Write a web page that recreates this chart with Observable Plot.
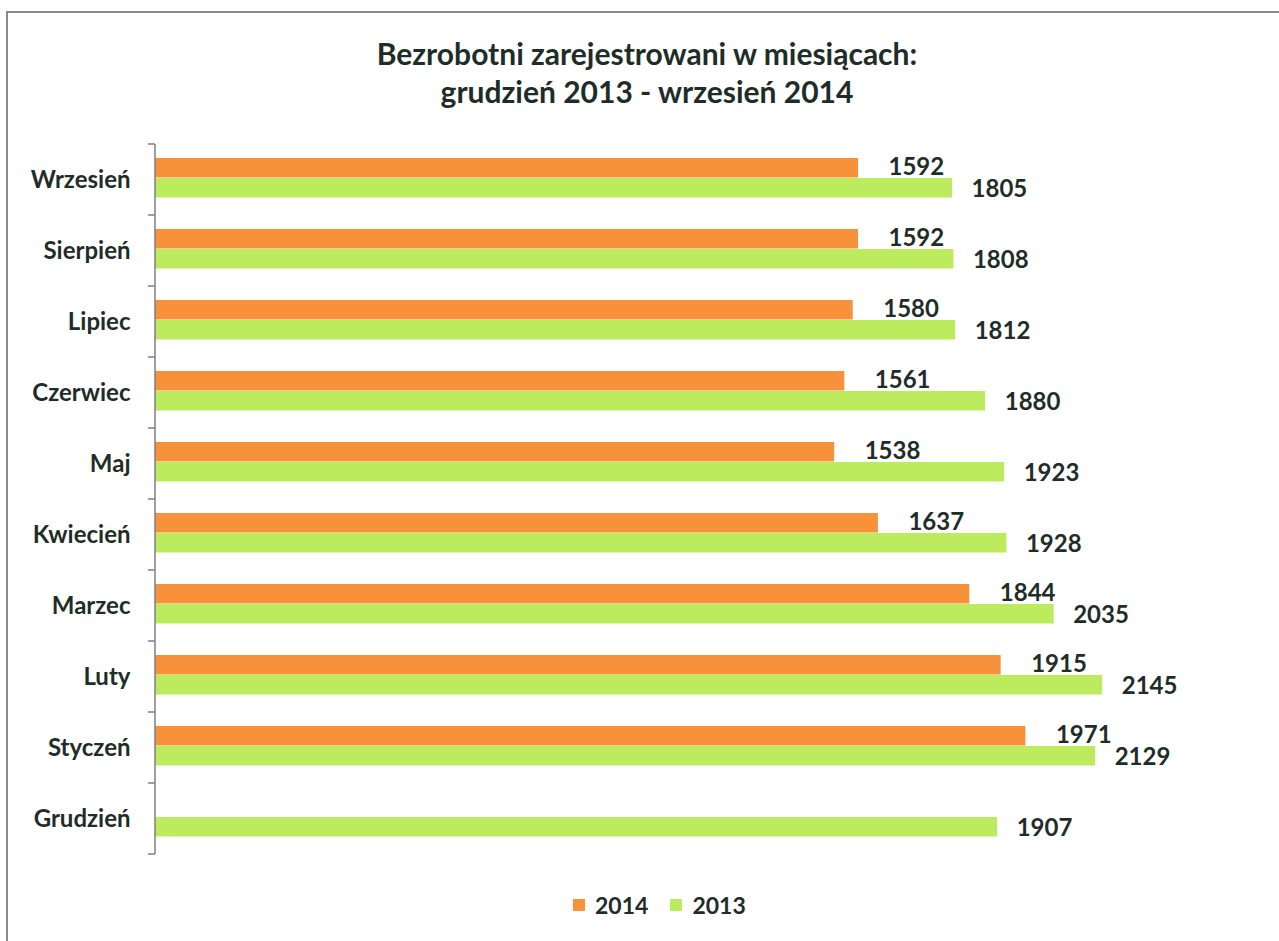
<!DOCTYPE html>
<html><head><meta charset="utf-8">
<script src="https://cdn.jsdelivr.net/npm/d3@7"></script>
<script src="https://cdn.jsdelivr.net/npm/@observablehq/plot@0.6"></script>
<style>
body{margin:0;background:#fff;font-family:Lato,"Open Sans",sans-serif;}
#wrap{position:relative;width:1279px;height:941px;overflow:hidden;background:#fff;}
.frameTop{position:absolute;left:7px;top:11px;width:1272px;height:2px;background:#8a8a8a;}
.frameLeft{position:absolute;left:6px;top:11px;width:2px;height:930px;background:#8a8a8a;}
#title{position:absolute;left:15px;top:34px;width:1264px;text-align:center;font-weight:700;font-size:30px;line-height:38px;color:#1f2d28;}
#chart{position:absolute;left:0;top:120px;}
#legend{position:absolute;left:573px;top:891px;display:flex;align-items:center;font-weight:700;font-size:23px;color:#1f2d28;}
#legend .sw{width:12px;height:12px;display:inline-block;margin-right:10px;}
#legend .item{display:flex;align-items:center;margin-right:22px;}
</style></head><body>
<div id="wrap">
 <div class="frameTop"></div><div class="frameLeft"></div>
 <div id="title">Bezrobotni zarejestrowani w miesiącach:<br>grudzień 2013 - wrzesień 2014</div>
 <div id="chart"></div>
 <div id="legend"></div>
</div>
<script>
const months = ["Wrzesień","Sierpień","Lipiec","Czerwiec","Maj","Kwiecień","Marzec","Luty","Styczeń","Grudzień"];
const values2014 = [1592,1592,1580,1561,1538,1637,1844,1915,1971,null];
const values2013 = [1805,1808,1812,1880,1923,1928,2035,2145,2129,1907];
const seriesNames = ["2014","2013"];
const seriesColors = ["#F7923A","#BDEB5E"];
const textColor = "#1f2d28";

const d14 = months.map((m,i)=>({month:m, value:values2014[i]})).filter(d=>d.value!=null);
const d13 = months.map((m,i)=>({month:m, value:values2013[i]}));

const axisLine = (index, scales) => {
  const y = scales.y, x = scales.x;
  const bw = y(months[1]) - y(months[0]);
  const x0 = x(0);
  const bounds = months.map(m => y(m)).concat([y(months[months.length-1]) + bw]);
  const g = d3.create("svg:g").attr("stroke","#7f7f7f").attr("stroke-width",1.5);
  g.append("line").attr("x1",x0).attr("x2",x0).attr("y1",bounds[0]).attr("y2",bounds[bounds.length-1]);
  g.selectAll(".t").data(bounds).join("line").attr("x1",x0-7).attr("x2",x0).attr("y1",d=>d).attr("y2",d=>d);
  return g.node();
};

const plot = Plot.plot({
  width: 1279,
  height: 766,
  marginTop: 22,
  marginBottom: 30,
  marginLeft: 155,
  marginRight: 20,
  style: {fontFamily: "Lato, 'Open Sans', sans-serif", color: textColor, background: "transparent", overflow: "visible"},
  x: {domain: [0, 2500], axis: null},
  y: {type: "band", domain: months, padding: 0, label: null},
  marks: [
    Plot.axisY({tickSize: 0, tickPadding: 25, fontSize: 24, fontWeight: "bold", fill: textColor, label: null}),
    Plot.barX(d14, {x: "value", y: "month", fill: seriesColors[0], insetTop: 14, insetBottom: 37.5}),
    Plot.barX(d13, {x: "value", y: "month", fill: seriesColors[1], insetTop: 34, insetBottom: 17.5}),
    Plot.text(d14, {x: "value", y: "month", text: d => String(d.value), textAnchor: "start", dx: 30, dy: -13, fontSize: 24, fontWeight: "bold", fill: textColor}),
    Plot.text(d13, {x: "value", y: "month", text: d => String(d.value), textAnchor: "start", dx: 19, dy: 9, fontSize: 24, fontWeight: "bold", fill: textColor}),
    axisLine
  ]
});
document.getElementById("chart").appendChild(plot);

const legend = document.getElementById("legend");
seriesNames.forEach((n,i) => {
  const it = document.createElement("div"); it.className = "item";
  const sw = document.createElement("span"); sw.className = "sw"; sw.style.background = seriesColors[i];
  const t = document.createElement("span"); t.textContent = n;
  it.appendChild(sw); it.appendChild(t); legend.appendChild(it);
});
</script>
</body></html>
